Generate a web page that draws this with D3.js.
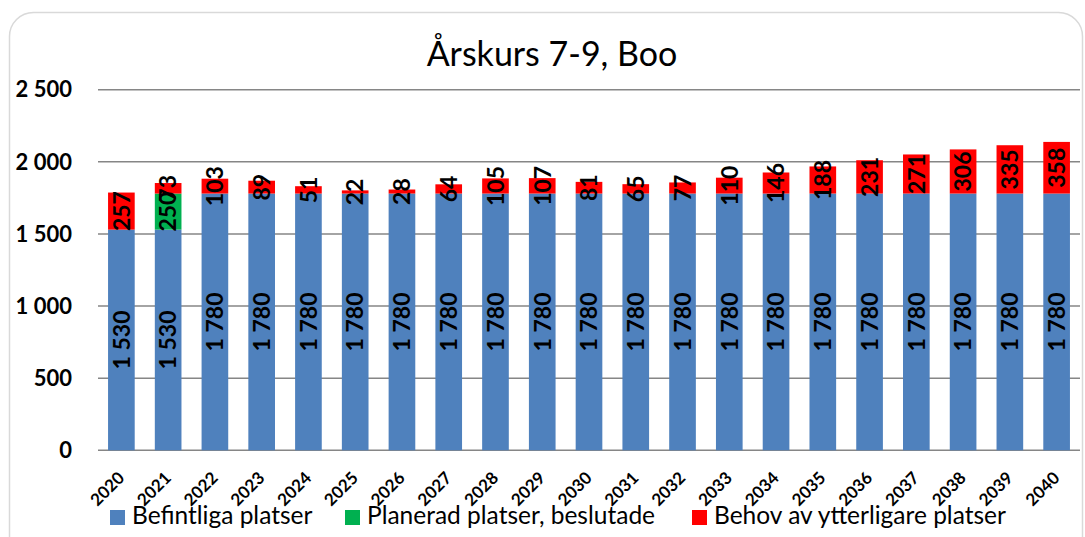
<!DOCTYPE html>
<html>
<head>
<meta charset="utf-8">
<script src="https://cdn.jsdelivr.net/npm/d3@7.9.0/dist/d3.min.js"></script>
<style>
  html, body { margin: 0; padding: 0; background: #fff; }
  svg { display: block; font-family: Lato, "Open Sans", sans-serif; }
</style>
</head>
<body>
<svg id="chart" width="1085" height="537"></svg>
<script>
// ---------- data ----------
const years = ['2020','2021','2022','2023','2024','2025','2026','2027','2028','2029','2030',
               '2031','2032','2033','2034','2035','2036','2037','2038','2039','2040'];
const befintliga = [1530,1530,1780,1780,1780,1780,1780,1780,1780,1780,1780,
                    1780,1780,1780,1780,1780,1780,1780,1780,1780,1780];
const planerad   = [0,250,0,0,0,0,0,0,0,0,0,0,0,0,0,0,0,0,0,0,0];
const behov      = [257,73,103,89,51,22,28,64,105,107,81,65,77,110,146,188,231,271,306,335,358];
const yTicks = [0, 500, 1000, 1500, 2000, 2500];

const seriesNames = ['Befintliga platser', 'Planerad platser, beslutade', 'Behov av ytterligare platser'];
const seriesColors = ['#4f81bd', '#00b050', '#ff0000'];

// ---------- setup ----------
const svg = d3.select('#chart');
const fmt = d3.formatLocale({ decimal: ',', thousands: ' ', grouping: [3], currency: ['', ''] }).format(',d');

const x = d3.scaleBand().domain(years).range([98, 1080]).paddingInner(0.43).paddingOuter(0.215);
const y = d3.scaleLinear().domain([0, 2500]).range([450.3, 89.7]);

const rows = years.map((yr, i) => ({ year: yr, b: befintliga[i], p: planerad[i], r: behov[i] }));
const stacked = d3.stack().keys(['b', 'p', 'r'])(rows);

// chart frame
svg.append('rect')
  .attr('x', 9.5).attr('y', 12.5)
  .attr('width', 1073).attr('height', 560)
  .attr('rx', 24).attr('ry', 24)
  .attr('fill', '#fff').attr('stroke', '#d9d9d9').attr('stroke-width', 1.5);

// title
svg.append('text')
  .attr('x', 552).attr('y', 66)
  .attr('text-anchor', 'middle')
  .attr('font-size', 34)
  .attr('fill', '#000')
  .text('Årskurs 7-9, Boo');

// gridlines
svg.append('g')
  .selectAll('line')
  .data(yTicks)
  .join('line')
  .attr('x1', 98).attr('x2', 1080)
  .attr('y1', d => y(d)).attr('y2', d => y(d))
  .attr('stroke', '#868686').attr('stroke-width', 1.5);

// y-axis labels
svg.append('g')
  .selectAll('text')
  .data(yTicks)
  .join('text')
  .attr('x', 72).attr('y', d => y(d))
  .attr('dy', '0.35em')
  .attr('text-anchor', 'end')
  .attr('font-size', 22).attr('font-weight', 700)
  .text(d => fmt(d));

// bars
const layers = svg.append('g')
  .selectAll('g')
  .data(stacked)
  .join('g')
  .attr('fill', (d, i) => seriesColors[i]);

layers.selectAll('rect')
  .data(d => d)
  .join('rect')
  .attr('x', d => x(d.data.year))
  .attr('width', x.bandwidth())
  .attr('y', d => y(d[1]))
  .attr('height', d => y(d[0]) - y(d[1]));

// data labels (zero segments get no label)
const labels = svg.append('g');
stacked.forEach(layer => {
  layer.forEach(d => {
    const v = d[1] - d[0];
    if (v <= 0) return;
    const cx = x(d.data.year) + x.bandwidth() / 2;
    const cy = (y(d[0]) + y(d[1])) / 2;
    labels.append('text')
      .attr('transform', `translate(${cx},${cy}) rotate(-90)`)
      .attr('text-anchor', 'middle')
      .attr('dy', '0.36em')
      .attr('font-size', 23).attr('font-weight', 700)
      .attr('fill', '#000')
      .text(fmt(v));
  });
});

// x-axis labels
svg.append('g')
  .selectAll('text')
  .data(years)
  .join('text')
  .attr('transform', d => `translate(${x(d) + x.bandwidth() / 2 + 4},${479}) rotate(-45)`)
  .attr('text-anchor', 'end')
  .attr('font-size', 17).attr('font-weight', 700)
  .text(d => d);

// legend
const legendX = [110, 345, 692];
const legend = svg.append('g')
  .selectAll('g')
  .data(seriesNames)
  .join('g')
  .attr('transform', (d, i) => `translate(${legendX[i]},510)`);
legend.append('rect')
  .attr('width', 15).attr('height', 15)
  .attr('fill', (d, i) => seriesColors[i]);
legend.append('text')
  .attr('x', 22).attr('y', 14)
  .attr('font-size', 24.5)
  .attr('fill', '#000')
  .text(d => d);
</script>
</body>
</html>
